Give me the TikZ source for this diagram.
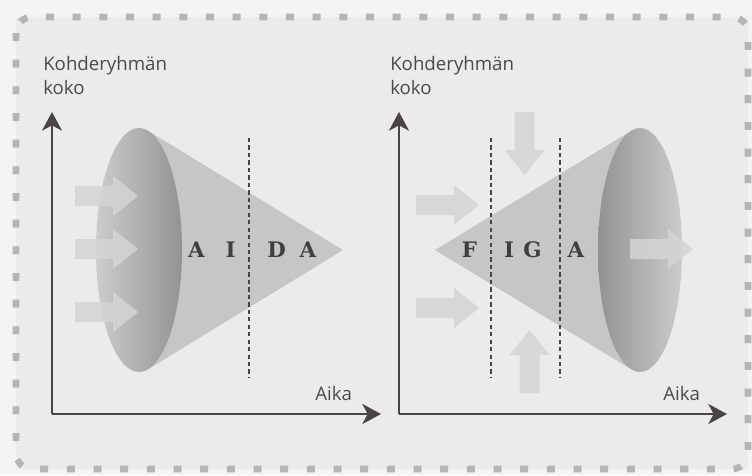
\documentclass[tikz,border=0pt]{standalone}
\usepackage{fontspec}
\setmainfont{Open Sans}
\newfontfamily\slabfont{DejaVu Serif}[BoldFont={DejaVu Serif Bold}]
\usetikzlibrary{arrows.meta}

\definecolor{paper}{HTML}{EBEBEB}
\definecolor{paperout}{HTML}{F4F4F4}
\definecolor{framegray}{HTML}{B5B5B5}
\definecolor{axisgray}{HTML}{4A4545}
\definecolor{conegray}{HTML}{C6C6C6}
\definecolor{arrowgray}{HTML}{D4D4D4}
\definecolor{textgray}{HTML}{4A4A4A}
\definecolor{lettergray}{HTML}{403E3E}

\tikzset{
  axis/.style={draw=axisgray, line width=1.9pt,
    -{Stealth[length=14pt, width=15pt, inset=4pt]}},
  divider/.style={draw=axisgray, line width=2.2pt, dash pattern=on 3.2pt off 2.4pt},
  cone/.style={fill=conegray},
  stagelabel/.style={font=\slabfont\bfseries\fontsize{16}{18}\selectfont,
    text=lettergray, anchor=base, inner sep=0pt},
  axislabel/.style={font=\fontsize{14}{18}\selectfont, text=textgray,
    anchor=base west, inner sep=0pt},
  blockarrow/.pic={
    \fill[arrowgray, opacity=0.85]
      (0,-10) -- (38,-10) -- (38,-20) -- (63,0) -- (38,20) -- (38,10) -- (0,10) -- cycle;
  }
}

\begin{document}
\begin{tikzpicture}[x=0.75pt, y=-0.75pt]
  \useasboundingbox (0,0) rectangle (752,475);
  \fill[paperout] (0,0) rectangle (752,475);
  \fill[paper] (16,17) rectangle (748,469);
  % dotted page frame
  \draw[framegray, line width=5pt, dash pattern=on 6pt off 14pt, rounded corners=12pt]
    (16,17) rectangle (748,469);

  % ---------- AIDA panel ----------
  \coordinate (oL) at (52,414);
  \coordinate (yL) at (52,112);
  \coordinate (xL) at (381,414);
  \coordinate (tipL) at (343,250);
  \coordinate (ecL) at (139,250);
  \fill[cone] (tipL) -- (148,130.7) -- (ecL) -- (148,369.3) -- cycle;
  \shade[left color=gray!40, right color=gray!85] (ecL) ellipse [x radius=43, y radius=122];
  \pic at (75,196) {blockarrow};
  \pic at (75,249) {blockarrow};
  \pic at (75,312) {blockarrow};
  \coordinate (dLt) at (249,138);
  \coordinate (dLb) at (249,378);
  \draw[divider] (dLt) -- (dLb);
  \node[stagelabel] (a1) at (196.5,257) {A};
  \node[stagelabel] (i1) at (230.5,257) {I};
  \node[stagelabel] (d1) at (276.5,257) {D};
  \node[stagelabel] (a2) at (308,257) {A};
  \draw[axis] (oL) -- (yL);
  \draw[axis] (oL) -- (xL);
  \node[axislabel] (kL1) at (43,70) {Kohderyhmän};
  \node[axislabel] (kL2) at (43,94) {koko};
  \node[axislabel] (tL) at (315,400) {Aika};

  % ---------- FIGA panel ----------
  \coordinate (oR) at (399,414);
  \coordinate (yR) at (399,112);
  \coordinate (xR) at (727,414);
  \coordinate (tipR) at (435,250);
  \coordinate (ecR) at (640,250);
  \fill[cone] (tipR) -- (631.4,130.6) -- (ecR) -- (631.4,369.4) -- cycle;
  \shade[left color=gray!85, right color=gray!40] (ecR) ellipse [x radius=42, y radius=122];
  \pic at (416,205) {blockarrow};
  \pic at (416,308) {blockarrow};
  \pic[rotate=-90] at (524.5,112) {blockarrow};
  \pic[rotate=90] at (529.5,393) {blockarrow};
  \pic at (630,249) {blockarrow};
  \coordinate (dR1t) at (491,138);
  \coordinate (dR1b) at (491,378);
  \coordinate (dR2t) at (560,138);
  \coordinate (dR2b) at (560,378);
  \draw[divider] (dR1t) -- (dR1b);
  \draw[divider] (dR2t) -- (dR2b);
  \node[stagelabel] (f1) at (469.5,257) {F};
  \node[stagelabel] (i2) at (509,257) {I};
  \node[stagelabel] (g1) at (532.5,257) {G};
  \node[stagelabel] (a3) at (576,257) {A};
  \draw[axis] (oR) -- (yR);
  \draw[axis] (oR) -- (xR);
  \node[axislabel] (kR1) at (390,70) {Kohderyhmän};
  \node[axislabel] (kR2) at (390,94) {koko};
  \node[axislabel] (tR) at (663,400) {Aika};
\end{tikzpicture}
\end{document}
